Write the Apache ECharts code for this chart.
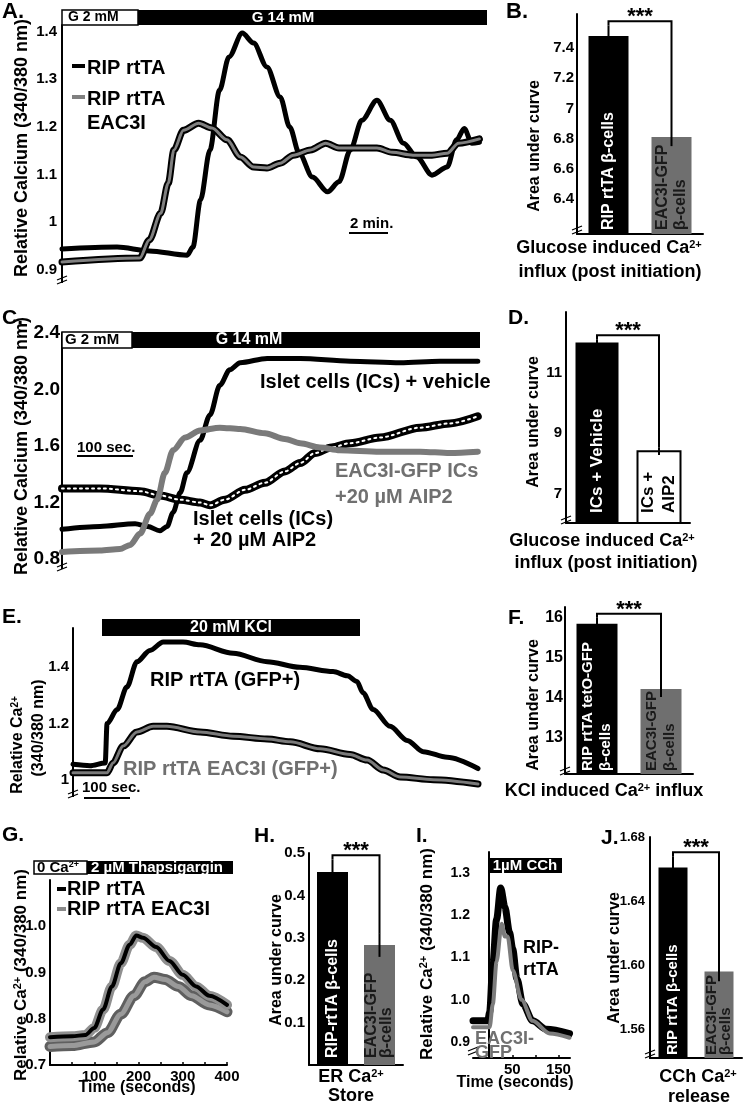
<!DOCTYPE html>
<html><head><meta charset="utf-8">
<script src="https://cdn.jsdelivr.net/npm/echarts@6/dist/echarts.min.js"></script>
<style>html,body{margin:0;padding:0;background:#fff}#c{width:745px;height:1104px}</style>
</head><body><div id="c"></div>
<script>
// ---------------- DATA ----------------
// Panel A: time (min), ratio
const aRip = [[0,0.944],[2.9,0.948],[4.6,0.94],[6.6,0.931],[6.9,0.948],[7.3,1.047],[7.8,1.152],[8.3,1.277],[8.8,1.347],[9.5,1.397],[10.1,1.376],[10.8,1.326],[11.5,1.263],[12,1.2],[12.5,1.145],[13.2,1.095],[14,1.064],[14.6,1.085],[15.2,1.152],[15.8,1.214],[16.6,1.256],[17.3,1.214],[18,1.166],[18.7,1.137],[19.5,1.099],[20.3,1.116],[20.8,1.173],[21.2,1.197],[21.6,1.166],[22,1.168]];
const aEac = [[0,0.917],[4.1,0.925],[4.6,0.963],[5.2,1.019],[5.6,1.082],[5.9,1.152],[6.4,1.193],[7.2,1.208],[7.9,1.198],[8.7,1.173],[9.4,1.137],[10.1,1.116],[10.8,1.114],[11.5,1.124],[12.2,1.141],[13.1,1.152],[13.9,1.166],[14.6,1.156],[15.5,1.156],[16.6,1.156],[17.4,1.147],[18.5,1.141],[19.5,1.141],[20.3,1.145],[20.9,1.166],[22,1.175]];
const aTicks = [0.9,1,1.1,1.2,1.3,1.4];
// Panel B
const bCats = ['RIP rtTA β-cells','EAC3I-GFP\nβ-cells'];
const bVals = [7.48,6.81];
const bErr = [0.07,0.06];
const bTicks = [6.4,6.6,6.8,7,7.2,7.4];
// Panel C: time (s)
const cVeh = [[0,1.01],[69,1.03],[133,1.05],[156,1.03],[178,1.0],[191,1.03],[202,1.13],[215,1.27],[227,1.41],[251,1.64],[269,1.82],[287,2.03],[305,2.14],[324,2.19],[373,2.22],[433,2.22],[524,2.2],[615,2.19],[687,2.2],[756,2.2]];
const cAip = [[0,1.3],[69,1.3],[142,1.28],[178,1.25],[215,1.22],[251,1.2],[269,1.18],[296,1.22],[333,1.29],[369,1.34],[405,1.42],[433,1.48],[460,1.55],[490,1.59],[524,1.62],[578,1.66],[651,1.73],[705,1.76],[756,1.81]];
const cEac = [[0,0.85],[69,0.86],[105,0.87],[124,0.9],[142,0.98],[160,1.12],[173,1.22],[187,1.41],[202,1.57],[224,1.66],[251,1.71],[287,1.73],[324,1.72],[369,1.69],[405,1.65],[433,1.62],[469,1.59],[505,1.57],[578,1.56],[651,1.56],[705,1.55],[756,1.56]];
const cTicks = [0.8,1.2,1.6,2.0,2.4];
// Panel D
const dCats = ['ICs + Vehicle','ICs +\nAIP2'];
const dVals = [11.99,8.41];
const dErr = [0.11,0.13];
const dTicks = [7,9,11];
// Panel E: time (s)
const eRip = [[0,1.055],[37,1.05],[70,1.06],[74,1.2],[96,1.25],[117,1.33],[139,1.42],[167,1.46],[196,1.49],[239,1.49],[276,1.48],[348,1.45],[422,1.42],[493,1.4],[565,1.385],[596,1.37],[617,1.35],[630,1.31],[652,1.25],[689,1.19],[726,1.14],[761,1.1],[813,1.08],[880,1.04]];
const eEac = [[0,1.025],[74,1.025],[87,1.06],[109,1.12],[139,1.17],[174,1.19],[204,1.19],[276,1.17],[348,1.155],[422,1.145],[472,1.135],[537,1.11],[602,1.09],[639,1.07],[674,1.035],[711,1.01],[783,1.0],[880,0.985]];
const eTicks = [1,1.2,1.4];
// Panel F
const fCats = ['RIP rtTA tetO-GFP\nβ-cells','EAC3I-GFP\nβ-cells'];
const fVals = [15.85,14.22];
const fErr = [0.15,0.2];
const fTicks = [13,14,15,16];
// Panel G: time (s)
const gRip = [[0,0.76],[50,0.762],[80,0.765],[100,0.78],[120,0.82],[140,0.87],[160,0.92],[180,0.96],[195,0.98],[210,0.975],[240,0.955],[270,0.925],[300,0.895],[330,0.87],[360,0.85],[400,0.83]];
const gEac = [[0,0.74],[50,0.742],[100,0.75],[130,0.77],[160,0.81],[190,0.85],[215,0.88],[235,0.89],[260,0.885],[290,0.87],[320,0.85],[360,0.83],[400,0.815]];
const gYTicks = [0.7,0.8,0.9,1.0];
const gXTicks = [100,200,300,400];
// Panel H
const hCats = ['RIP-rtTA β-cells','EAC3I-GFP\nβ-cells'];
const hVals = [0.455,0.283];
const hErr = [0.03,0.028];
const hTicks = [0.1,0.2,0.3,0.4,0.5];
// Panel I: time (s)
const iRip = [[-35,0.95],[-3,0.95],[1,0.97],[8,1.085],[16,1.19],[25,1.265],[34,1.22],[44,1.16],[51,1.12],[60,1.05],[73,0.99],[94,0.95],[124,0.93],[174,0.92]];
const iEac = [[-35,0.935],[1,0.935],[8,0.99],[16,1.09],[27,1.18],[34,1.15],[40,1.15],[51,1.07],[70,1.0],[94,0.95],[131,0.92],[174,0.91]];
const iYTicks = [0.9,1.0,1.1,1.2,1.3];
const iXTicks = [50,150];
// Panel J
const jCats = ['RIP rtTA β-cells','EAC3I-GFP\nβ-cells'];
const jVals = [1.661,1.596];
const jErr = [0.007,0.006];
const jTicks = [1.56,1.60,1.64,1.68];

// ---------------- LAYOUT / STYLE ----------------
const FF = "'Liberation Sans', Arial, sans-serif";
const grids = [
  {left:62, top:25, width:425, height:245},   // A
  {left:577, top:14, width:126, height:220},  // B
  {left:62, top:333, width:418, height:226},  // C
  {left:566, top:312, width:124, height:211}, // D
  {left:73, top:628, width:405, height:163},  // E
  {left:565, top:607, width:128, height:167}, // F
  {left:50, top:880, width:177, height:185},  // G
  {left:309, top:853, width:94, height:212},  // H
  {left:473, top:852, width:97, height:206},  // I
  {left:650, top:837, width:92, height:221}   // J
].map(g => Object.assign({outerBoundsMode:'none', containLabel:false}, g));

function yA(gi, min, max, ticks, size, margin, fmt) {
  const lab = {customValues:ticks, fontSize:size, fontWeight:'bold', color:'#000', margin, fontFamily:'Liberation Sans'};
  if (fmt) lab.formatter = fmt;
  return {gridIndex:gi, type:'value', min, max, splitLine:{show:false},
    axisLine:{show:true, lineStyle:{color:'#000', width:2}}, axisTick:{show:false}, axisLabel:lab};
}
function xHidden(gi, min, max) { return {gridIndex:gi, type:'value', min, max, show:false}; }
function xCat(gi, cats) {
  return {gridIndex:gi, type:'category', data:cats, axisLine:{show:true, onZero:false, lineStyle:{color:'#000', width:2}},
    axisTick:{show:false}, axisLabel:{show:false}, splitLine:{show:false}};
}
function xVal(gi, min, max, tickVals, labVals) {
  return {gridIndex:gi, type:'value', min, max, splitLine:{show:false},
    axisLine:{show:true, onZero:false, lineStyle:{color:'#000', width:2}},
    axisTick:{show:true, inside:true, length:3, customValues:tickVals, lineStyle:{color:'#000', width:1.5}},
    axisLabel:{customValues:labVals, fontSize:15, fontWeight:'bold', color:'#000', margin:4, fontFamily:'Liberation Sans'}};
}
const f1 = v => v.toFixed(1), f2 = v => v.toFixed(2);

function line(gi, data, color, width, z, type) {
  return {type:'line', xAxisIndex:gi, yAxisIndex:gi, data, showSymbol:false, symbol:'none',
    smooth:0.3, smoothMonotone:'x', clip:false, silent:true, z,
    lineStyle:{color, width, type:type||'solid', cap:'round', join:'round'}};
}

function barPanel(gi, cats, vals, errs, cfg) {
  return {type:'custom', xAxisIndex:gi, yAxisIndex:gi, clip:false, silent:true, z:5,
    data: cats.map((c, i) => [i, vals[i], errs[i]]),
    renderItem: (params, api) => {
      const i = api.value(0), v = api.value(1), e = api.value(2);
      const cs = params.coordSys;
      const bottom = cs.y + cs.height;
      const p = api.coord([i, v]);
      const w = cfg.bw;
      const ch = [
        {type:'rect', shape:{x:p[0]-w/2, y:p[1], width:w, height:bottom-p[1]},
          style:{fill:cfg.colors[i], stroke:cfg.borders ? cfg.borders[i] : null, lineWidth:cfg.borders && cfg.borders[i] ? 2 : 0}},
        {type:'line', shape:{x1:p[0], y1:api.coord([i, v+e])[1], x2:p[0], y2:api.coord([i, v-e])[1]},
          style:{stroke:'#000', lineWidth:2}},
        {type:'text', x:p[0], y:bottom-cfg.dist, rotation:Math.PI/2,
          style:{text:cats[i], align:'left', verticalAlign:'middle', font:'bold '+cfg.fs+'px '+FF,
            fill:cfg.lc[i], lineHeight:cfg.lh}}
      ];
      if (i === 1) {
        const a = api.coord([0, vals[0]+errs[0]]), b = api.coord([1, vals[1]+errs[1]]);
        const top = Math.min(a[1], b[1]) - 4;
        ch.push({type:'polyline', shape:{points:[[a[0],a[1]],[a[0],top],[b[0],top],[b[0],b[1]]]},
          style:{stroke:'#000', lineWidth:2, fill:null}});
        ch.push({type:'text', x:(a[0]+b[0])/2, y:top-4,
          style:{text:'***', align:'center', verticalAlign:'middle', font:'bold 22px '+FF, fill:'#000'}});
      }
      return {type:'group', children:ch};
    }};
}

// ---------------- GRAPHIC ANNOTATIONS ----------------
const g = [];
function txt(x, y, text, size, o) {
  o = o || {};
  const col = o.color || '#000';
  g.push({type:'text', x, y, rotation:o.rot || 0, z:100, silent:true,
    style:{text, x:0, y:0, font:'bold '+size+'px '+FF, fill:col, align:o.align || 'left', verticalAlign:'middle',
      rich:{s:{font:'bold '+Math.round(size*0.62)+'px '+FF, fill:col, verticalAlign:'top'}}}});
}
function rect(x, y, w, h, fill, stroke) {
  g.push({type:'rect', z:99, silent:true, shape:{x, y, width:w, height:h},
    style:{fill, stroke:stroke || null, lineWidth:stroke ? 1.5 : 0}});
}
function ln(x1, y1, x2, y2, color, w) {
  g.push({type:'line', z:99, silent:true, shape:{x1, y1, x2, y2}, style:{stroke:color || '#000', lineWidth:w || 2}});
}
function brk(x, y) { ln(x-5, y+1, x+5, y-3, '#000', 1.3); ln(x-5, y+5, x+5, y+1, '#000', 1.3); }
const R = Math.PI/2, GRAY = '#707070';

// panel letters
txt(2,12,'A.',22); txt(506,12,'B.',22); txt(2,318,'C.',21); txt(508,318,'D.',21);
txt(2,617,'E.',21); txt(508,618,'F.',21); txt(2,835,'G.',21); txt(254,836,'H.',21);
txt(416,836,'I.',21); txt(601,838,'J.',21);

// A
rect(62,10,76,15,'#fff','#000'); rect(138,10,349,15,'#000');
txt(68,17.5,'G 2 mM',14); txt(283,17.5,'G 14 mM',15,{color:'#fff',align:'center'});
txt(22,148,'Relative Calcium (340/380 nm)',18,{rot:R,align:'center'});
ln(72,66,85,66,'#000',4); txt(87,68,'RIP rtTA',20);
ln(72,97,85,97,'#808080',4); txt(87,99,'RIP rtTA',20); txt(87,123,'EAC3I',20);
txt(350,224,'2 min.',15); ln(349,233,388,233,'#000',2);
ln(62,270,62,283,'#000',2); brk(62,279);
// B
txt(535,146,'Area under curve',16,{rot:R,align:'center'});
txt(609,248,'Glucose induced Ca{s|2+}',18,{align:'center'});
txt(610,272,'influx (post initiation)',18,{align:'center'});
brk(577,229);
// C
rect(62,332,70,16,'#fff','#000'); rect(132,332,348,16,'#000');
txt(65,340,'G 2 mM',15); txt(249,340,'G 14 mM',16,{color:'#fff',align:'center'});
txt(22,446,'Relative Calcium (340/380 nm)',18,{rot:R,align:'center'});
txt(260,382,'Islet cells (ICs) + vehicle',20);
txt(77,448,'100 sec.',15); ln(77,456,133,456,'#000',2);
txt(335,471,'EAC3I-GFP ICs',20,{color:GRAY}); txt(335,497,'+20 µM AIP2',20,{color:GRAY});
txt(193,519,'Islet cells (ICs)',20); txt(193,540,'+ 20 µM AIP2',20);
ln(62,559,62,569,'#000',2); brk(62,566);
// D
txt(534,422,'Area under curve',16,{rot:R,align:'center'});
txt(602,541,'Glucose induced Ca{s|2+}',18,{align:'center'});
txt(606,563,'influx (post initiation)',18,{align:'center'});
brk(566,519);
// E
rect(102,619,258,17,'#000'); txt(231,627.5,'20 mM KCl',16,{color:'#fff',align:'center'});
txt(18,745,'Relative Ca{s|2+}',16,{rot:R,align:'center'});
txt(39,728,'(340/380 nm)',16,{rot:R,align:'center'});
txt(150,680,'RIP rtTA (GFP+)',20); txt(123,769,'RIP rtTA EAC3I (GFP+)',20,{color:GRAY});
txt(82,788,'100 sec.',15); ln(84,798,130,798,'#000',2);
ln(73,791,73,797,'#000',2); brk(73,793);
// F
txt(534,705,'Area under curve',16,{rot:R,align:'center'});
txt(604,791,'KCl induced Ca{s|2+} influx',18,{align:'center'});
brk(565,770);
// G
rect(34,861,53,13,'#fff','#000'); rect(87,861,146,13,'#000');
txt(37,867.5,'0 Ca{s|2+}',15); txt(91,867.5,'2 µM Thapsigargin',15,{color:'#fff'});
ln(57,889,66,889,'#000',4); txt(67,889,'RIP rtTA',20);
ln(57,909,66,909,'#8a8a8a',4); txt(67,909,'RIP rtTA EAC3I',20);
txt(21,975,'Relative Ca{s|2+} (340/380 nm)',17,{rot:R,align:'center'});
txt(137,1088,'Time (seconds)',16,{align:'center'});
// H
txt(277,960,'Area under curve',16,{rot:R,align:'center'});
txt(351,1077,'ER Ca{s|2+}',18,{align:'center'}); txt(351,1096,'Store',18,{align:'center'});
// I
rect(488,858,74,15,'#000'); txt(525,865.5,'1µM CCh',15,{color:'#fff',align:'center'});
txt(427,954,'Relative Ca{s|2+} (340/380 nm)',17,{rot:R,align:'center'});
txt(523,948,'RIP-',18); txt(523,970,'rtTA',18);
txt(475,1039,'EAC3I-',18,{color:GRAY}); txt(475,1053,'GFP',18,{color:GRAY});
txt(515,1083,'Time (seconds)',16,{align:'center'});
brk(473,1050);
// J
txt(615,958,'Area under curve',16,{rot:R,align:'center'});
txt(698,1077,'CCh Ca{s|2+}',18,{align:'center'}); txt(699,1097,'release',18,{align:'center'});
brk(650,1053);

// ---------------- OPTION ----------------
const option = {
  animation:false,
  backgroundColor:'#fff',
  textStyle:{fontFamily:'Liberation Sans'},
  grid: grids,
  xAxis: [
    xHidden(0,0,22.4),
    xCat(1,bCats),
    xHidden(2,0,760),
    xCat(3,dCats),
    xHidden(4,0,880),
    xCat(5,fCats),
    xVal(6,0,400,[0,50,100,150,200,250,300,350,400],gXTicks),
    xCat(7,hCats),
    xVal(8,-35,175,[0,50,100,150],iXTicks),
    xCat(9,jCats)
  ],
  yAxis: [
    yA(0,0.9,1.414,aTicks,15,5),
    yA(1,6.168,7.625,bTicks,15,3),
    yA(2,0.8,2.4,cTicks,19,2,f1),
    yA(3,6.04,13.0,dTicks,15,4),
    yA(4,0.96,1.54,eTicks,15,4),
    yA(5,12.1,16.27,fTicks,16,2),
    yA(6,0.7,1.1,gYTicks,15,4,f1),
    yA(7,0,0.5,hTicks,15,4),
    yA(8,0.862,1.35,iYTicks,14,3,f1),
    yA(9,1.542,1.68,jTicks,13,5,f2)
  ],
  series: [
    // A
    line(0,aRip,'#000',5,2), line(0,aEac,'#000',7,3), line(0,aEac,'#808080',3,4),
    // B
    barPanel(1,bCats,bVals,bErr,{bw:40,colors:['#000','#6f6f6f'],lc:['#fff','#1a1a1a'],fs:16,lh:18,dist:4}),
    // C
    line(2,cVeh,'#000',5,2), line(2,cAip,'#000',8,3), line(2,cAip,'#fff',2,4,[2,4]), line(2,cEac,'#7a7a7a',6,5),
    // D
    barPanel(3,dCats,dVals,dErr,{bw:43,colors:['#000','#fff'],borders:[null,'#000'],lc:['#fff','#000'],fs:17,lh:21,dist:10}),
    // E
    line(4,eRip,'#000',5,2), line(4,eEac,'#000',7,3), line(4,eEac,'#7a7a7a',3,4),
    // F
    barPanel(5,fCats,fVals,fErr,{bw:41,colors:['#000','#6f6f6f'],lc:['#fff','#1a1a1a'],fs:15,lh:18,dist:3}),
    // G
    line(6,gEac,'#5f5f5f',11,2), line(6,gEac,'#9a9a9a',5,3), line(6,gRip,'#8f8f8f',10,4), line(6,gRip,'#000',4,5),
    // H
    barPanel(7,hCats,hVals,hErr,{bw:31,colors:['#000','#6f6f6f'],lc:['#fff','#1a1a1a'],fs:16,lh:15,dist:7}),
    // I
    line(8,iRip,'#000',7,2), line(8,iEac,'#7c7c7c',4,3),
    // J
    barPanel(9,jCats,jVals,jErr,{bw:29,colors:['#000','#6f6f6f'],lc:['#fff','#1a1a1a'],fs:15,lh:14,dist:3})
  ],
  graphic: {elements: g}
};
const chart = echarts.init(document.getElementById('c'), null, {renderer:'canvas'});
chart.setOption(option);
</script>
</body></html>
